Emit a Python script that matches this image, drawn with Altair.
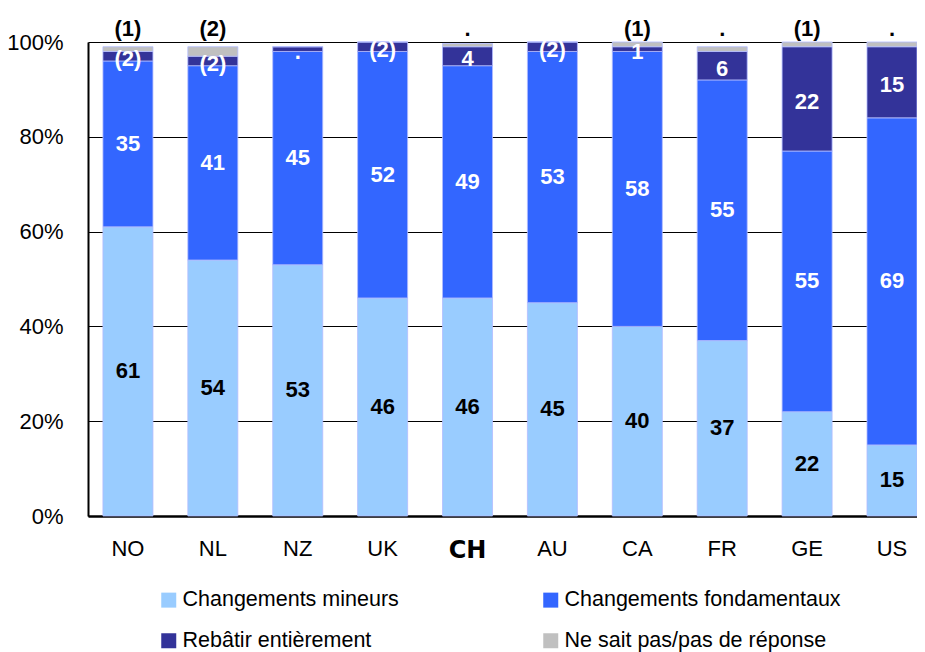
import altair as alt
import pandas as pd

countries = ["NO", "NL", "NZ", "UK", "CH", "AU", "CA", "FR", "GE", "US"]
series_names = ["Changements mineurs", "Changements fondamentaux",
                "Rebâtir entièrement", "Ne sait pas/pas de réponse"]
colors = ["#99CCFF", "#3366FF", "#333399", "#C0C0C0"]

mineurs = [61, 54, 53, 46, 46, 45, 40, 37, 22, 15]
fondamentaux = [35, 41, 45, 52, 49, 53, 58, 55, 55, 69]
rebatir = [2, 2, 1, 2, 4, 2, 1, 6, 22, 15]
nsp = [1, 2, 0, 0, 0.7, 0, 1, 1, 1, 1]

lab_mineurs = ["61", "54", "53", "46", "46", "45", "40", "37", "22", "15"]
lab_fond = ["35", "41", "45", "52", "49", "53", "58", "55", "55", "69"]
lab_rebatir = ["(2)", "(2)", ".", "(2)", "4", "(2)", "1", "6", "22", "15"]
lab_nsp = ["(1)", "(2)", "", "", ".", "", "(1)", ".", "(1)", "."]

y_ticks = [0, 20, 40, 60, 80, 100]

rows = []
for i, c in enumerate(countries):
    for k, (vals, labs) in enumerate(zip([mineurs, fondamentaux, rebatir, nsp],
                                         [lab_mineurs, lab_fond, lab_rebatir, lab_nsp])):
        rows.append(dict(pays=c, serie=series_names[k], ordre=k,
                         valeur=vals[i], label=labs[i]))
df = pd.DataFrame(rows)

FONT = "Liberation Sans Narrow, Arial Narrow, Liberation Sans, Arial"

x_enc = alt.X(
    "pays:N", sort=countries, title=None,
    scale=alt.Scale(paddingInner=0.411, paddingOuter=0.088, align=1),
    axis=alt.Axis(
        ticks=False, domain=True, domainColor="black", domainWidth=2.5,
        labelAngle=0, labelPadding=22, labelColor="black",
        labelFont={"condition": {"test": "datum.value === 'CH'", "value": "DejaVu Sans"}, "value": FONT},
        labelFontWeight={"condition": {"test": "datum.value === 'CH'", "value": "bold"}, "value": "normal"},
        labelFontSize={"condition": {"test": "datum.value === 'CH'", "value": 24}, "value": 22},
    ),
)

y_scale = alt.Scale(domain=[0, 100], nice=False, zero=True)

bars = alt.Chart(df).mark_bar(stroke="#b3bbff", strokeWidth=0.8).encode(
    x=x_enc,
    y=alt.Y(
        "valeur:Q", stack="zero", scale=y_scale, title=None,
        axis=alt.Axis(
            values=y_ticks, labelExpr="datum.value + '%'", ticks=False,
            domain=True, domainColor="black", domainWidth=2,
            grid=True, gridColor="black", gridWidth=1.2, gridOpacity=1,
            labelFont=FONT, labelFontSize=22, labelColor="black", labelPadding=25,
        ),
    ),
    color=alt.Color(
        "serie:N", sort=series_names,
        scale=alt.Scale(domain=series_names, range=colors),
        legend=alt.Legend(
            title=None, orient="none", legendX=70, legendY=547, columns=2,
            direction="horizontal",
            columnPadding=141, rowPadding=18, symbolType="square", symbolSize=225,
            symbolStrokeWidth=0, labelFont=FONT, labelFontSize=21.5, labelColor="black",
            labelOffset=3, padding=0, labelLimit=400,
        ),
    ),
    order=alt.Order("ordre:Q"),
)

stacked = alt.Chart(df).transform_stack(
    stack="valeur", groupby=["pays"], sort=[alt.SortField("ordre")], as_=["y0", "y1"]
).transform_calculate(
    mid="(datum.y0 + datum.y1) / 2",
    top="102.8",
)

text_style = dict(font=FONT, fontSize=22, fontWeight="bold", baseline="middle", align="center")

t_min = stacked.transform_filter("datum.ordre == 0").mark_text(color="black", **text_style).encode(
    x=alt.X("pays:N", sort=countries), y=alt.Y("mid:Q", scale=y_scale), text="label:N")
t_fond = stacked.transform_filter("datum.ordre == 1").mark_text(color="white", **text_style).encode(
    x=alt.X("pays:N", sort=countries), y=alt.Y("mid:Q", scale=y_scale), text="label:N")
t_reb = stacked.transform_filter("datum.ordre == 2").mark_text(color="white", dy=3, **text_style).encode(
    x=alt.X("pays:N", sort=countries), y=alt.Y("mid:Q", scale=y_scale), text="label:N")
t_nsp = stacked.transform_filter("datum.ordre == 3").mark_text(color="black", **text_style).encode(
    x=alt.X("pays:N", sort=countries), y=alt.Y("top:Q", scale=y_scale), text="label:N")

chart = alt.layer(bars, t_min, t_fond, t_reb, t_nsp).properties(
    width=829, height=474,
    autosize=alt.AutoSizeParams(type="none"),
    padding={"left": 80, "top": 34, "right": 0, "bottom": 136},
).configure_view(strokeWidth=0).configure(background="white")

chart.save("out.html", embed_options={"renderer": "svg", "actions": False})
